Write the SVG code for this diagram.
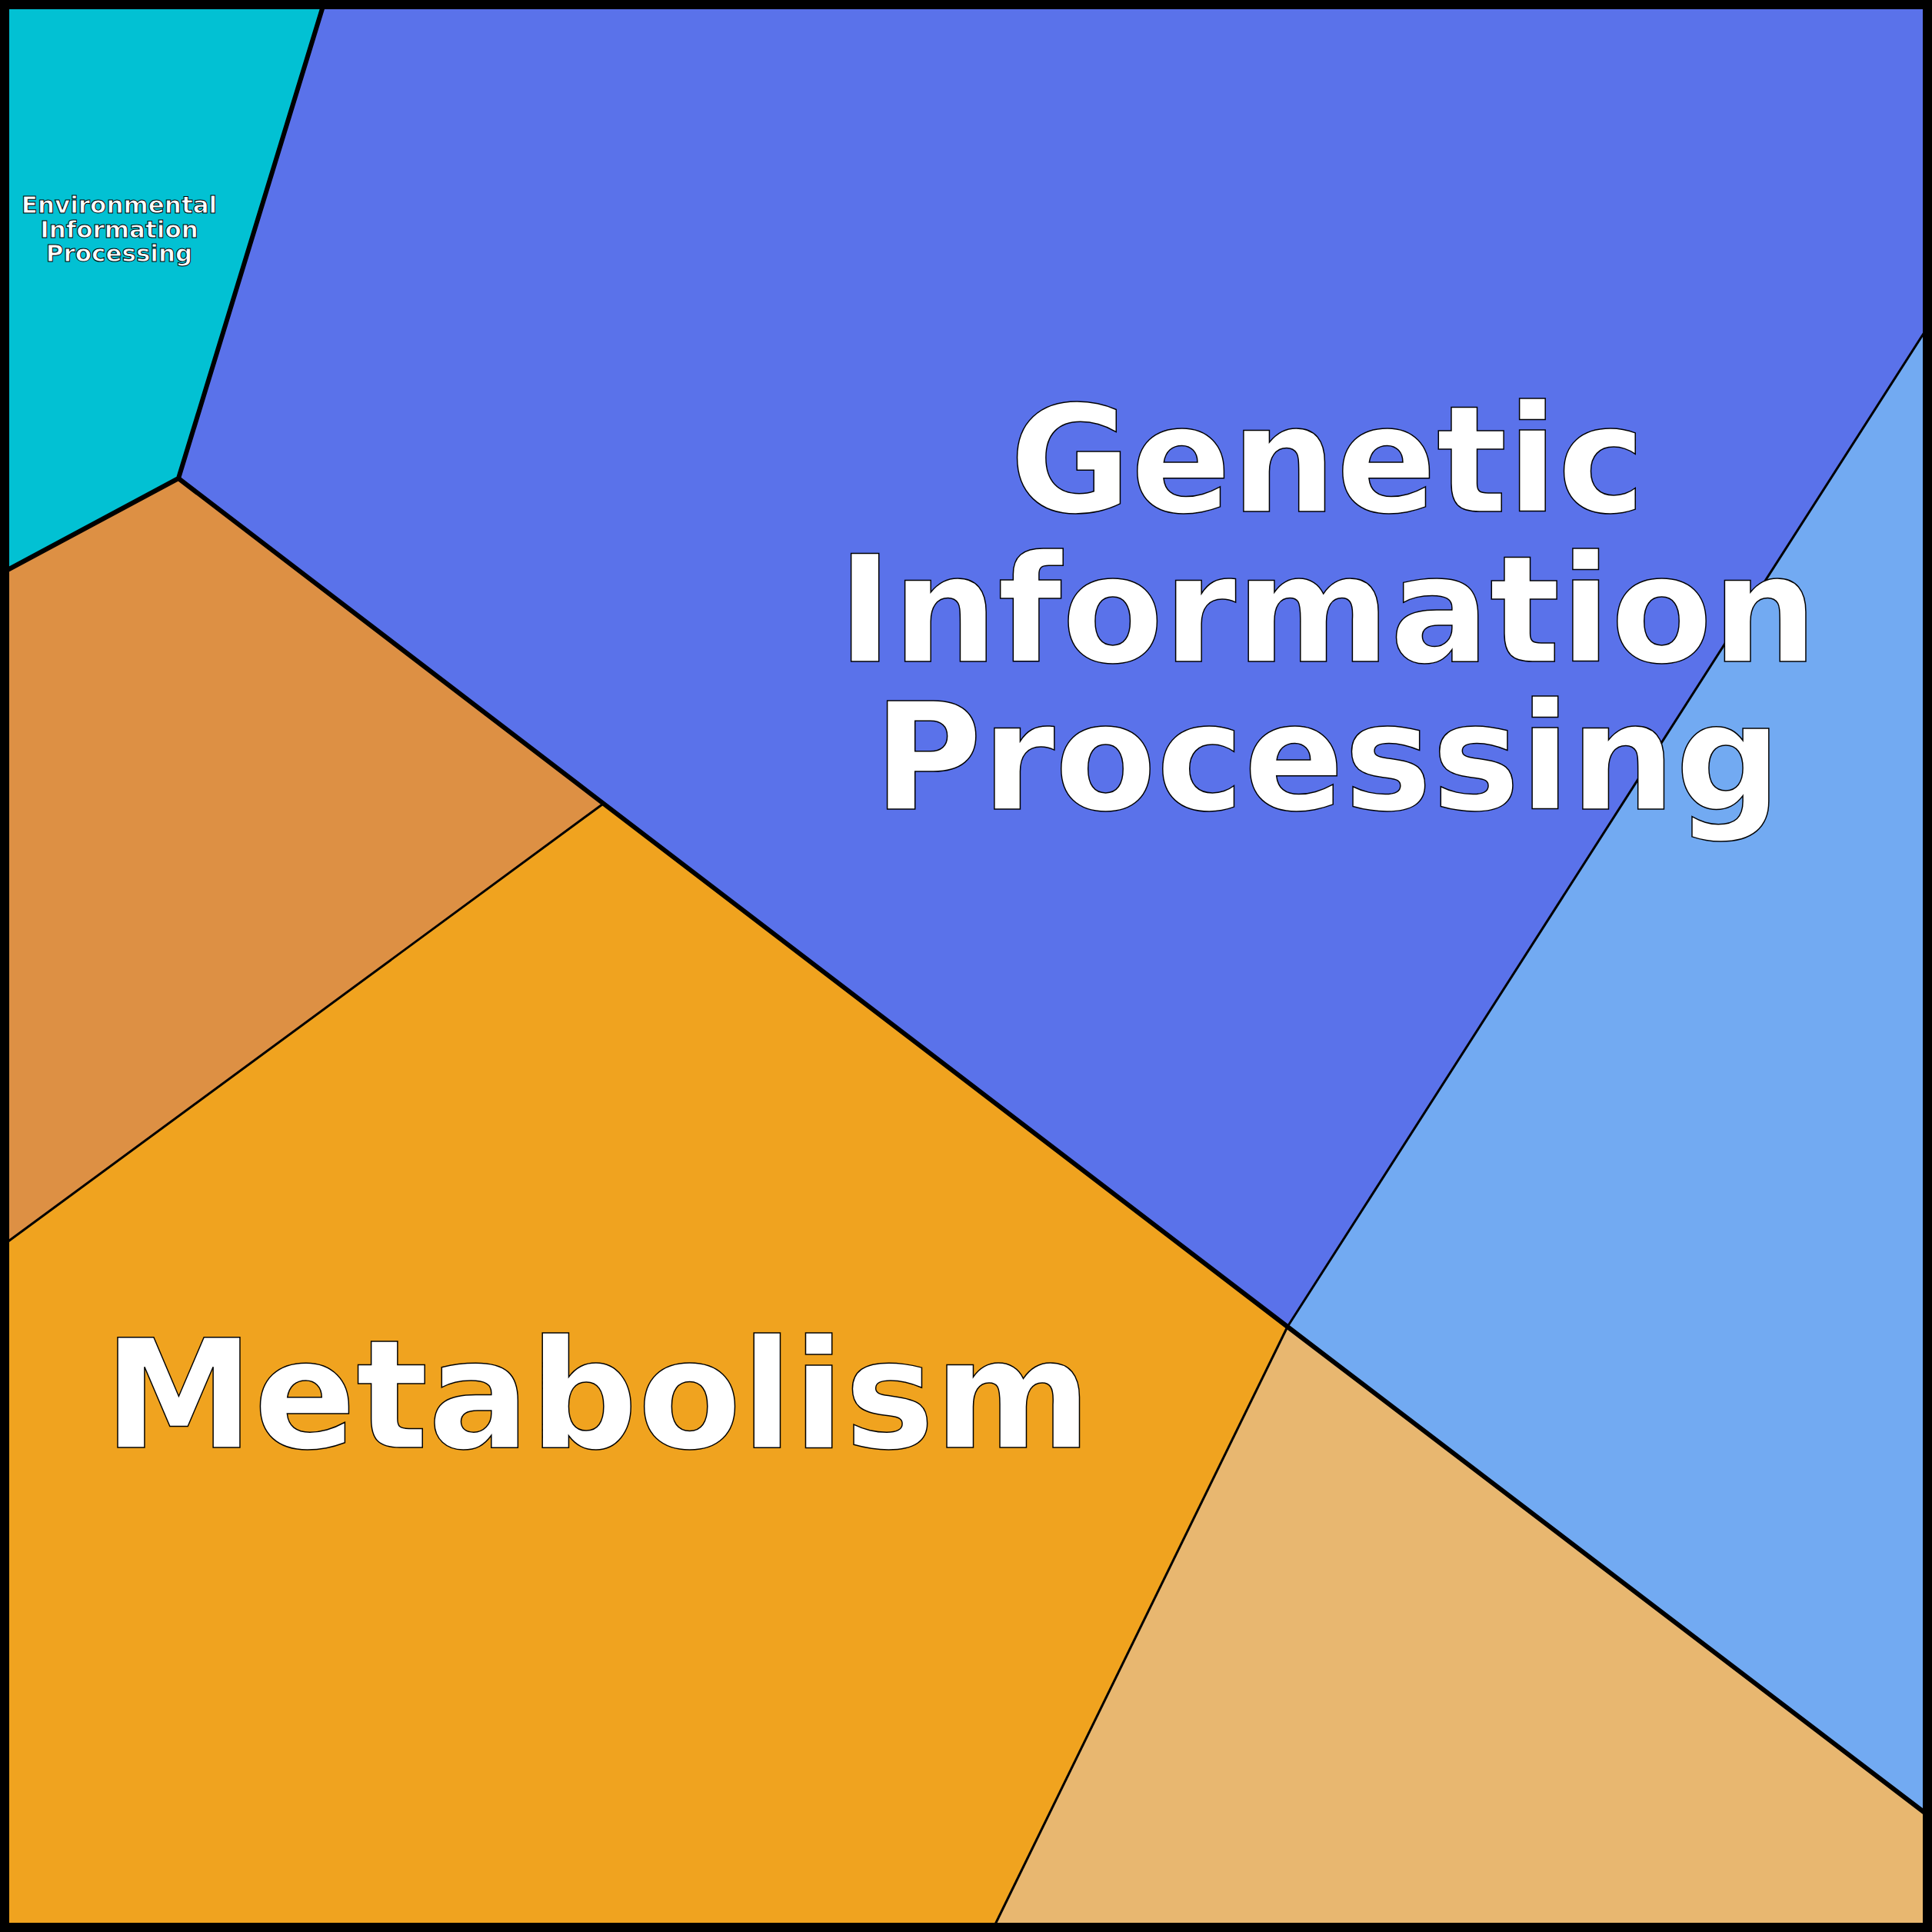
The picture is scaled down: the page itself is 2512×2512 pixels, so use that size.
<svg xmlns="http://www.w3.org/2000/svg" width="2512" height="2512" viewBox="0 0 2512 2512">
<style>
.cell{stroke:none}
.thick{stroke:#000;stroke-width:6;fill:none;stroke-linejoin:round}
.thin{stroke:#000;stroke-width:3;fill:none}
.lbl{font-family:"DejaVu Sans",sans-serif;font-weight:bold;fill:#fff;stroke:#000;text-anchor:middle}
</style>
<rect width="2512" height="2512" fill="#fff"/>
<g id="cells">
<g id="env"><polygon class="cell" fill="#02C1D3" points="8,8 420,8 232,622 8,742"/>
<text class="lbl" style="font-size:31px;stroke-width:1" x="155"><tspan x="155" y="277">Environmental</tspan><tspan x="155" y="309">Information</tspan><tspan x="155" y="340">Processing</tspan></text></g>
<g id="genetic"><polygon class="cell" fill="#5A72EA" points="420,8 2504,8 2504,429 1674,1725 232,622"/></g>
<g id="lightblue"><polygon class="cell" fill="#72AAF2" points="2504,429 2504,2358 1674,1725"/></g>
<g id="brown"><polygon class="cell" fill="#DD9044" points="8,742 232,622 783,1046 8,1616"/></g>
<g id="metabolism"><polygon class="cell" fill="#F0A31F" points="8,1616 783,1046 1674,1725 1293,2504 8,2504"/></g>
<g id="tan"><polygon class="cell" fill="#E8B770" points="1674,1725 2504,2358 2504,2504 1293,2504"/></g>
</g>
<g id="connectors">
<polyline class="thin" points="783,1046 8,1616"/>
<polyline class="thin" points="1674,1725 1293,2504"/>
<polyline class="thin" points="1674,1725 2504,429"/>
<polyline class="thick" points="420,8 232,622 8,742"/>
<polyline class="thick" points="232,622 1674,1725 2504,2358"/>
<rect x="6" y="6" width="2500" height="2500" fill="none" stroke="#000" stroke-width="12"/>
</g>
<g id="labels">
<text class="lbl" style="font-size:192px;stroke-width:1.5"><tspan x="1726" y="665">Genetic</tspan><tspan x="1726" y="860">Information</tspan><tspan x="1726" y="1052">Processing</tspan></text>
<text class="lbl" style="font-size:196px;stroke-width:1.5" x="777" y="1882">Metabolism</text>
</g>
</svg>
